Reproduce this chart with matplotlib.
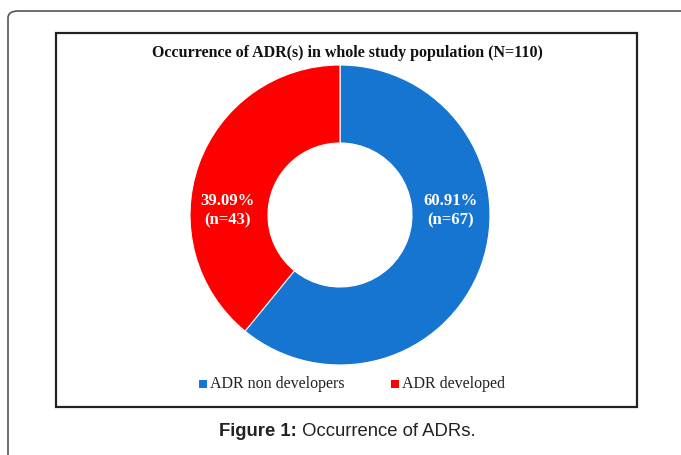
import matplotlib.pyplot as plt
from matplotlib.patches import Rectangle, FancyBboxPatch

# data
labels = ['ADR non developers', 'ADR developed']
counts = [67, 43]
colors = ['#1675D1', '#FF0000']
total = sum(counts)

W, H = 681, 455
fig = plt.figure(figsize=(W / 100, H / 100), dpi=100)


def fx(px):
    return px / W


def fy(py):
    return 1 - py / H


# outer rounded frame (runs off the right/bottom edge)
fig.patches.append(FancyBboxPatch((fx(8), fy(470)), fx(700), 459 / H,
                                  boxstyle='round,pad=0,rounding_size=0.015',
                                  transform=fig.transFigure, fill=False,
                                  edgecolor='#555555', lw=1.2))
# chart frame
fig.patches.append(Rectangle((fx(56), fy(407)), fx(581), 374 / H,
                             transform=fig.transFigure, fill=False,
                             edgecolor='#222222', lw=1.6))

fig.text(fx(347), fy(53), 'Occurrence of ADR(s) in whole study population (N=110)',
         ha='center', va='center', family='Liberation Serif', weight='bold',
         fontsize=11.5, color='#111111')

# donut
r = 150
ax = fig.add_axes([fx(340 - r), fy(215 + r), 2 * r / W, 2 * r / H])
ax.pie(counts, colors=colors, startangle=90, counterclock=False,
       radius=1, wedgeprops=dict(width=0.52, edgecolor='white', linewidth=0.8))
ax.set_xlim(-1, 1)
ax.set_ylim(-1, 1)
ax.set_aspect('equal')
ax.axis('off')

label_pos = [(0.74, 0.03), (-0.75, 0.03)]
for c, (x, y) in zip(counts, label_pos):
    ax.text(x, y, f'{c / total * 100:.2f}%\n(n={c})', ha='center', va='center',
            color='white', family='Liberation Serif', weight='bold',
            fontsize=12, linespacing=1.25)

# legend
leg_x = [199, 391]
for lab, col, x in zip(labels, colors, leg_x):
    fig.patches.append(Rectangle((fx(x), fy(388)), 8 / W, 8 / H,
                                 transform=fig.transFigure, facecolor=col,
                                 edgecolor='none'))
    fig.text(fx(x + 11), fy(384), lab, ha='left', va='center',
             family='Liberation Serif', fontsize=11.5, color='#222222')

# caption
fig.text(fx(297), fy(432), 'Figure 1:', ha='right', va='center',
         family='Liberation Sans', weight='bold', fontsize=13.3,
         color='#222222')
fig.text(fx(297), fy(432), ' Occurrence of ADRs.', ha='left', va='center',
         family='Liberation Sans', fontsize=13.3, color='#222222')

fig.savefig('out.png', dpi=100)
